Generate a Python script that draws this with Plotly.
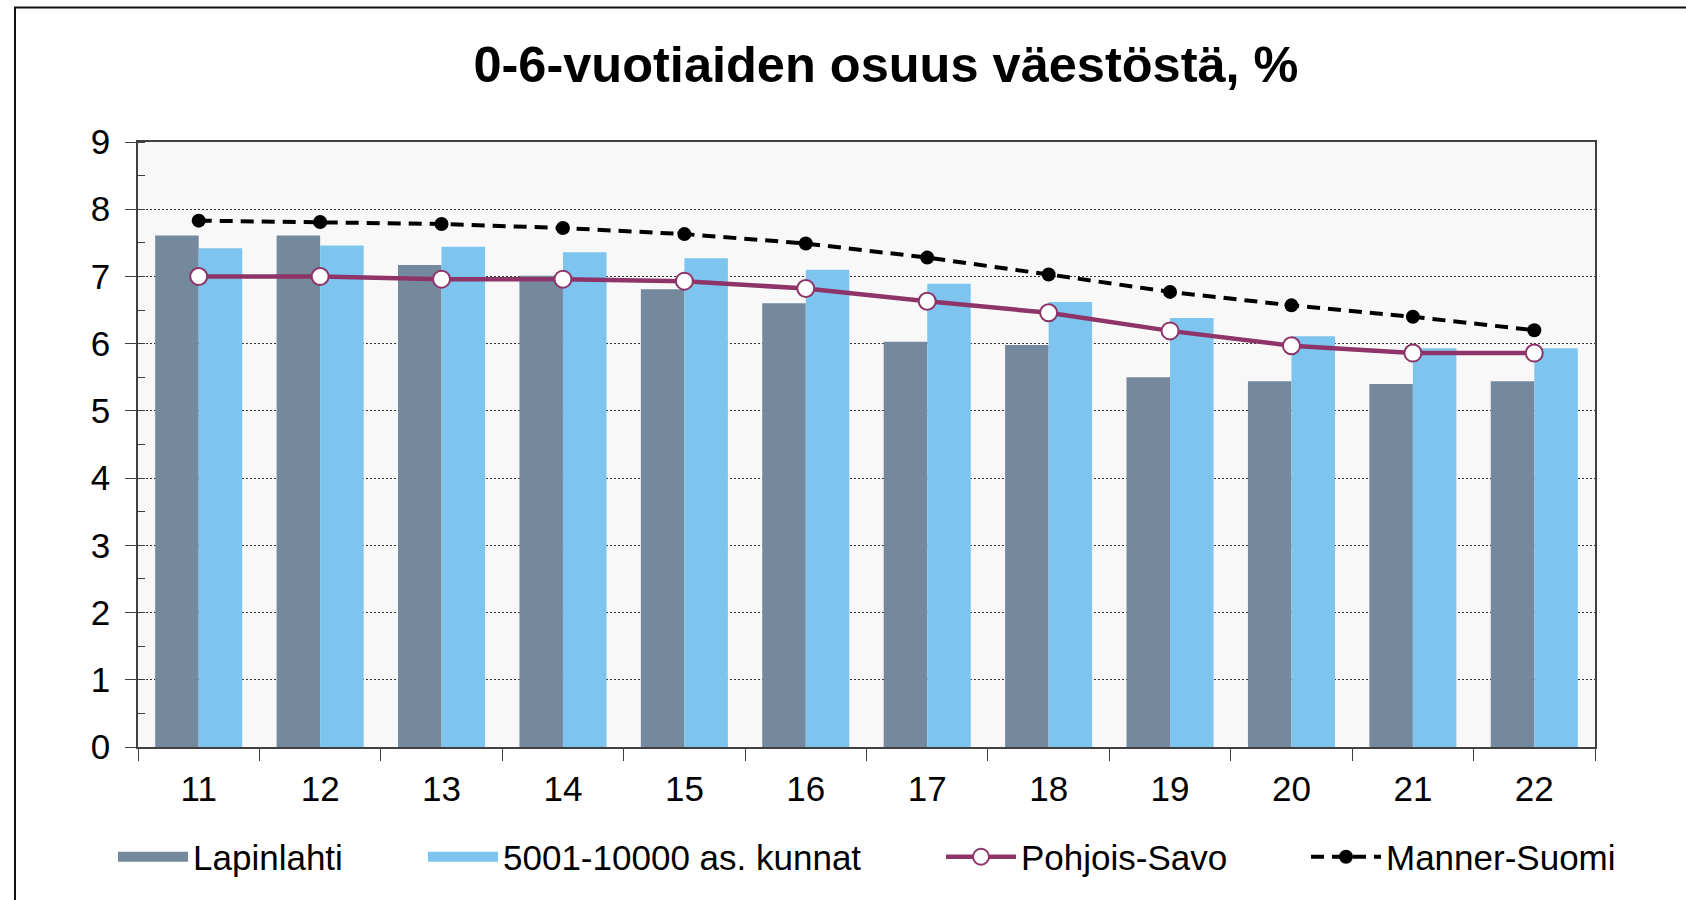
import plotly.graph_objects as go

years = ["11", "12", "13", "14", "15", "16", "17", "18", "19", "20", "21", "22"]
lapinlahti = [7.61, 7.61, 7.17, 7.01, 6.81, 6.60, 6.03, 5.98, 5.50, 5.44, 5.40, 5.44]
kunnat = [7.42, 7.46, 7.44, 7.36, 7.27, 7.10, 6.89, 6.62, 6.38, 6.11, 5.93, 5.93]
pohjois_savo = [7.00, 7.00, 6.96, 6.96, 6.93, 6.82, 6.63, 6.46, 6.19, 5.97, 5.86, 5.86]
manner_suomi = [7.83, 7.81, 7.78, 7.72, 7.63, 7.49, 7.28, 7.03, 6.77, 6.57, 6.40, 6.20]
y_ticks = [0, 1, 2, 3, 4, 5, 6, 7, 8, 9]

FONT = "Liberation Sans, Arial, sans-serif"
C_LAP = "#74899E"
C_KUN = "#7DC5EE"
C_PS = "#8E3468"
C_MS = "#000000"

W, H = 1686, 900
L, R, T, B = 138, 91, 142, 153
PW = W - L - R
PH = H - T - B


def px2x(px):
    return (px - L) / PW


def py2y(py):
    return (H - B - py) / PH


fig = go.Figure()
fig.add_trace(go.Bar(x=years, y=lapinlahti, name="Lapinlahti", marker=dict(color=C_LAP, line=dict(width=0)),
                     showlegend=False))
fig.add_trace(go.Bar(x=years, y=kunnat, name="5001-10000 as. kunnat", marker=dict(color=C_KUN, line=dict(width=0)),
                     showlegend=False))
fig.add_trace(go.Scatter(x=years, y=pohjois_savo, name="Pohjois-Savo", mode="lines+markers",
                         line=dict(color=C_PS, width=4.5),
                         marker=dict(symbol="circle", size=17, color="white", line=dict(color=C_PS, width=2)),
                         legend="legend3"))
fig.add_trace(go.Scatter(x=years, y=manner_suomi, name="Manner-Suomi", mode="lines+markers",
                         line=dict(color=C_MS, width=4, dash="13px,8px"),
                         marker=dict(symbol="circle", size=14, color=C_MS),
                         legend="legend4"))
# legend entries for bars (drawn as wide swatches)
fig.add_trace(go.Scatter(x=[None], y=[None], name="Lapinlahti", mode="lines",
                         line=dict(color=C_LAP, width=17), legend="legend"))
fig.add_trace(go.Scatter(x=[None], y=[None], name="5001-10000 as. kunnat", mode="lines",
                         line=dict(color=C_KUN, width=17), legend="legend2"))

leg_y = py2y(857)
common_leg = dict(orientation="h", yanchor="middle", y=leg_y, xanchor="left", itemwidth=70,
                  font=dict(family=FONT, size=35, color="black"), bgcolor="rgba(0,0,0,0)", borderwidth=0,
                  itemclick=False, itemdoubleclick=False)

fig.update_layout(
    width=W, height=H, autosize=False,
    margin=dict(l=L, r=R, t=T, b=B, pad=0),
    paper_bgcolor="white",
    plot_bgcolor="#F8F8F8",
    barmode="group", bargap=0.283, bargroupgap=0,
    font=dict(family=FONT, color="black"),
    title=dict(text="0-6-vuotiaiden osuus väestöstä, %", x=px2x(886), xref="paper", xanchor="center",
               y=1 - 64 / H, yref="container", yanchor="middle",
               font=dict(family=FONT, size=50.5, color="black", weight=700)),
    legend=dict(common_leg, x=px2x(113)),
    legend2=dict(common_leg, x=px2x(423)),
    legend3=dict(common_leg, x=px2x(941)),
    legend4=dict(common_leg, x=px2x(1306)),
    xaxis=dict(type="category", range=[-0.5, 11.5], autorange=False,
               showline=True, linecolor="#404040", linewidth=1.5, mirror=True,
               ticks="outside", ticklen=12, tickwidth=1, tickcolor="#404040", tickson="boundaries",
               showgrid=False, tickfont=dict(family=FONT, size=35, color="black"),
               ticklabelstandoff=10),
    yaxis=dict(range=[0, 9], tickvals=y_ticks, showline=True, linecolor="#404040", linewidth=1.5, mirror=True,
               ticks="outside", ticklen=11, tickwidth=1, tickcolor="#404040",
               showgrid=True, gridcolor="#333333", gridwidth=1, griddash="2px,2px",
               zeroline=False, tickfont=dict(family=FONT, size=35, color="black"),
               ticklabelstandoff=8,
               minor=dict(dtick=0.5, ticks="inside", ticklen=7, tickcolor="#404040", tickwidth=1, showgrid=False)),
    shapes=[dict(type="rect", xref="paper", yref="paper", x0=px2x(15), x1=px2x(1720), y0=py2y(920), y1=py2y(7.5),
                 line=dict(color="#111111", width=2), fillcolor="rgba(0,0,0,0)", layer="above")],
)

fig.write_html("out.html", config={"displayModeBar": False},
               post_script="document.body.style.margin='0';document.body.style.overflow='hidden';")
